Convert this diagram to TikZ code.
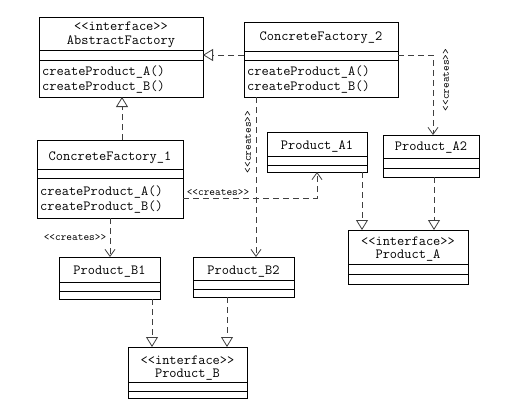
\documentclass[tikz,border=0pt]{standalone}
\usetikzlibrary{arrows.meta}
\begin{document}
\begin{tikzpicture}[x=1pt,y=-1pt,
  cls/.style={draw=black, line width=0.8pt, fill=white, anchor=north west, inner sep=0pt, outer sep=0pt},
  sep/.style={draw=black, line width=0.8pt},
  txt/.style={font=\fontsize{14}{16}\selectfont\ttfamily, inner sep=0pt},
  lbl/.style={font=\fontsize{10.8}{12}\selectfont\ttfamily, inner sep=0pt},
  dep/.style={draw=black!75, line width=0.8pt, dash pattern=on 6pt off 4pt, -{Straight Barb[length=7pt,width=10pt]}},
  real/.style={draw=black!75, line width=0.8pt, dash pattern=on 6pt off 4pt, -{Triangle[open,length=10pt,width=12pt,fill=white]}}]
\useasboundingbox (0,0) rectangle (528,407);

% ---------- classes ----------
\node[cls, minimum width=164pt, minimum height=80pt] (af) at (39,17) {};
\draw[sep] (af.west |- 0,50) -- (af.east |- 0,50);
\draw[sep] (af.west |- 0,60) -- (af.east |- 0,60);
\node[txt] (afs) at (af.north |- 0,26) {<{}<interface>{}>};
\node[txt] (afn) at (af.north |- 0,42) {AbstractFactory};
\node[txt, anchor=west] (afa) at (42,72) {createProduct\_A()};
\node[txt, anchor=west] (afb) at (42,87) {createProduct\_B()};

\node[cls, minimum width=154pt, minimum height=75pt] (cf2) at (244,22) {};
\draw[sep] (cf2.west |- 0,51) -- (cf2.east |- 0,51);
\draw[sep] (cf2.west |- 0,60) -- (cf2.east |- 0,60);
\node[txt] (cf2n) at (cf2.north |- 0,38) {ConcreteFactory\_2};
\node[txt, anchor=west] (cf2a) at (247,72) {createProduct\_A()};
\node[txt, anchor=west] (cf2b) at (247,87) {createProduct\_B()};

\node[cls, minimum width=146pt, minimum height=78pt] (cf1) at (37,140) {};
\draw[sep] (cf1.west |- 0,169) -- (cf1.east |- 0,169);
\draw[sep] (cf1.west |- 0,178) -- (cf1.east |- 0,178);
\node[txt] (cf1n) at (cf1.north |- 0,158) {ConcreteFactory\_1};
\node[txt, anchor=west] (cf1a) at (40,192) {createProduct\_A()};
\node[txt, anchor=west] (cf1b) at (40,207) {createProduct\_B()};

\node[cls, minimum width=100pt, minimum height=40pt] (pa1) at (267,132) {};
\draw[sep] (pa1.west |- 0,156) -- (pa1.east |- 0,156);
\draw[sep] (pa1.west |- 0,165) -- (pa1.east |- 0,165);
\node[txt] (pa1n) at (pa1.north |- 0,147) {Product\_A1};

\node[cls, minimum width=96pt, minimum height=42pt] (pa2) at (383,135) {};
\draw[sep] (pa2.west |- 0,158) -- (pa2.east |- 0,158);
\draw[sep] (pa2.west |- 0,168) -- (pa2.east |- 0,168);
\node[txt] (pa2n) at (pa2.north |- 0,148) {Product\_A2};

\node[cls, minimum width=120pt, minimum height=54pt] (pa) at (348,230) {};
\draw[sep] (pa.west |- 0,264) -- (pa.east |- 0,264);
\draw[sep] (pa.west |- 0,274) -- (pa.east |- 0,274);
\node[txt, align=center, font=\fontsize{14}{13}\selectfont\ttfamily] (pan) at (pa.north |- 0,249.5) {<{}<interface>{}>\\Product\_A};

\node[cls, minimum width=101pt, minimum height=42pt] (pb1) at (59,257) {};
\draw[sep] (pb1.west |- 0,282) -- (pb1.east |- 0,282);
\draw[sep] (pb1.west |- 0,291) -- (pb1.east |- 0,291);
\node[txt] (pb1n) at (pb1.north |- 0,272) {Product\_B1};

\node[cls, minimum width=101pt, minimum height=40pt] (pb2) at (193,257) {};
\draw[sep] (pb2.west |- 0,280) -- (pb2.east |- 0,280);
\draw[sep] (pb2.west |- 0,289) -- (pb2.east |- 0,289);
\node[txt] (pb2n) at (pb2.north |- 0,272) {Product\_B2};

\node[cls, minimum width=119pt, minimum height=51pt] (pb) at (128,347) {};
\draw[sep] (pb.west |- 0,382) -- (pb.east |- 0,382);
\draw[sep] (pb.west |- 0,391) -- (pb.east |- 0,391);
\node[txt] (pbs) at (pb.north |- 0,360) {<{}<interface>{}>};
\node[txt] (pbn) at (pb.north |- 0,375) {Product\_B};

% ---------- connectors ----------
\draw[real] (cf2.west |- 0,55) -- (af.east |- 0,55);
\draw[real] (cf1.north -| 122,0) -- (af.south -| 122,0);

\draw[dep] (cf2.east |- 0,55) -| (pa2.north -| 433,0);
\node[lbl, rotate=90] (l1) at (446,80) {<{}<creates>{}>};

\draw[dep] (cf2.south -| 256,0) -- (pb2.north -| 256,0);
\node[lbl, rotate=90] (l2) at (248,142) {<{}<creates>{}>};

\draw[dep] (cf1.east |- 0,198) -| (pa1.south -| 317,0);
\node[lbl] (l3) at (218,193) {<{}<creates>{}>};

\draw[dep] (cf1.south -| 110,0) -- (pb1.north -| 110,0);
\node[lbl] (l4) at (75,238) {<{}<creates>{}>};

\draw[real] (pa1.south -| 362,0) -- (pa.north -| 362,0);
\draw[real] (pa2.south -| 434,0) -- (pa.north -| 434,0);
\draw[real] (pb1.south -| 152,0) -- (pb.north -| 152,0);
\draw[real] (pb2.south -| 227,0) -- (pb.north -| 227,0);
\end{tikzpicture}
\end{document}
